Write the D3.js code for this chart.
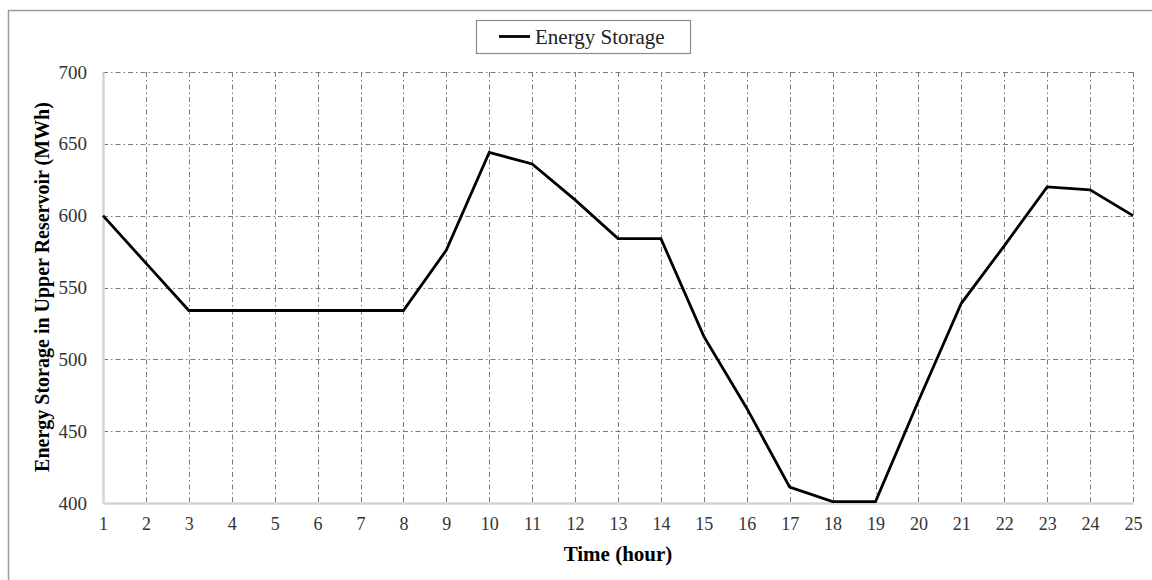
<!DOCTYPE html>
<html>
<head>
<meta charset="utf-8">
<script src="https://cdn.jsdelivr.net/npm/d3@7"></script>
<style>
body { margin: 0; background: #fff; }
svg { display: block; }
</style>
</head>
<body>
<svg id="chart" width="1152" height="580"></svg>
<script>
const hours = [1,2,3,4,5,6,7,8,9,10,11,12,13,14,15,16,17,18,19,20,21,22,23,24,25];
const storage = [600,567,534,534,534,534,534,534,576,644,636,611,584,584,516,466,411,401,401,471,539,579,620,618,600];
const yTicks = [400,450,500,550,600,650,700];
const seriesName = "Energy Storage";
const xTitle = "Time (hour)";
const yTitle = "Energy Storage in Upper Reservoir (MWh)";

const svg = d3.select("#chart");
const font = "'Liberation Serif', 'Times New Roman', serif";
const pLeft = 103, pRight = 1133, pTop = 72, pBottom = 503;

const x = d3.scaleLinear().domain([1, 25]).range([pLeft, pRight]);
const y = d3.scaleLinear().domain([400, 700]).range([pBottom, pTop]);

// outer frame
svg.append("rect").attr("x", 8.5).attr("y", 10.5).attr("width", 1300).attr("height", 700)
  .attr("fill", "none").attr("stroke", "#9a9a9a").attr("stroke-width", 1.5);

// grid
const dash = "5,3,1.5,3";
svg.append("g").selectAll("line").data(yTicks.filter(d => d !== 400)).join("line")
  .attr("x1", pLeft).attr("x2", pRight)
  .attr("y1", d => Math.round(y(d)) + 0.5).attr("y2", d => Math.round(y(d)) + 0.5)
  .attr("stroke", "#7a7a7a").attr("stroke-width", 1).attr("stroke-dasharray", dash);
svg.append("g").selectAll("line").data(hours.filter(d => d !== 1)).join("line")
  .attr("x1", d => Math.round(x(d)) + 0.5).attr("x2", d => Math.round(x(d)) + 0.5)
  .attr("y1", pTop).attr("y2", pBottom)
  .attr("stroke", "#7a7a7a").attr("stroke-width", 1).attr("stroke-dasharray", dash);

// axes
const xAxis = d3.axisBottom(x).tickValues(hours).tickFormat(d3.format("d")).tickSize(0).tickPadding(14);
const gx = svg.append("g").attr("transform", `translate(0,${pBottom})`).call(xAxis);
gx.select(".domain").attr("stroke", "#d4d4d4").attr("stroke-width", 2.5);
gx.selectAll("text").attr("font-family", font).attr("font-size", 18).attr("fill", "#333");

const yAxis = d3.axisLeft(y).tickValues(yTicks).tickFormat(d3.format("d")).tickSize(0).tickPadding(16);
const gy = svg.append("g").attr("transform", `translate(${pLeft},0)`).call(yAxis);
gy.select(".domain").attr("stroke", "#d4d4d4").attr("stroke-width", 2.5);
gy.selectAll("text").attr("font-family", font).attr("font-size", 19).attr("fill", "#333");

// line
const line = d3.line().x((d, i) => x(hours[i])).y(d => y(d));
svg.append("path").datum(storage).attr("d", line)
  .attr("fill", "none").attr("stroke", "#000").attr("stroke-width", 2.8)
  .attr("stroke-linejoin", "miter");

// titles
svg.append("text").attr("x", 618).attr("y", 561).attr("text-anchor", "middle")
  .attr("font-family", font).attr("font-weight", "bold").attr("font-size", 21)
  .text(xTitle);
svg.append("text").attr("transform", "translate(49,287) rotate(-90)").attr("text-anchor", "middle")
  .attr("font-family", font).attr("font-weight", "bold").attr("font-size", 20)
  .text(yTitle);

// legend
const lg = svg.append("g");
lg.append("rect").attr("x", 476.5).attr("y", 20.5).attr("width", 214).attr("height", 33)
  .attr("fill", "#fff").attr("stroke", "#8a8a8a").attr("stroke-width", 1.2);
lg.append("line").attr("x1", 499).attr("x2", 530).attr("y1", 36.5).attr("y2", 36.5)
  .attr("stroke", "#000").attr("stroke-width", 2.8);
lg.append("text").attr("x", 535).attr("y", 43.5)
  .attr("font-family", font).attr("font-size", 21).attr("fill", "#222")
  .text(seriesName);
</script>
</body>
</html>
